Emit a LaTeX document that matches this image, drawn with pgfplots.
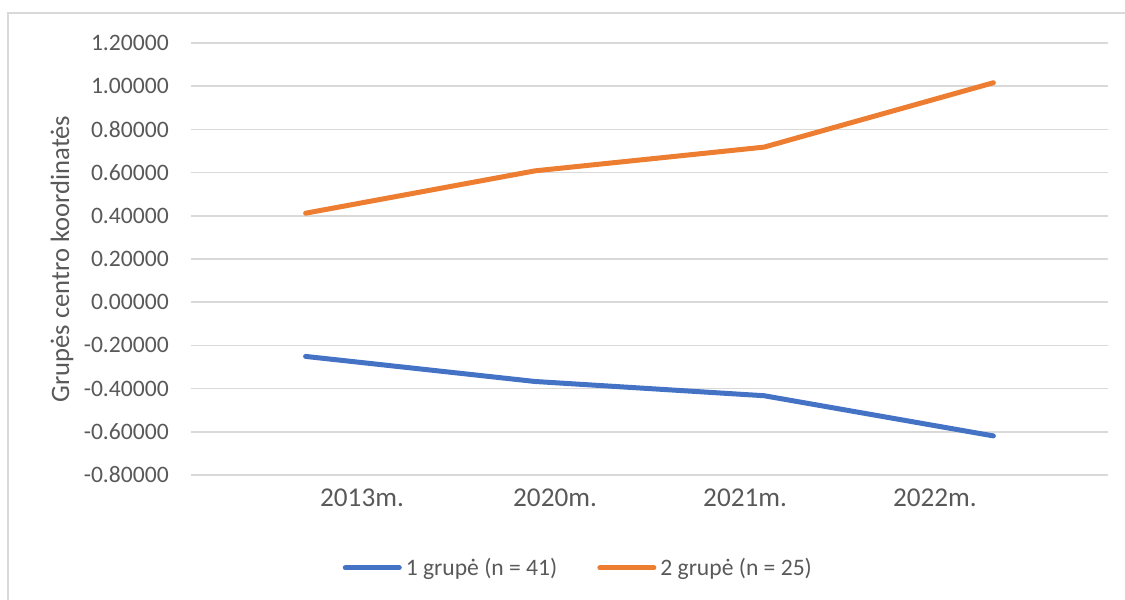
\documentclass[border=0pt]{standalone}
\usepackage{fontspec}
\setmainfont{Carlito}
\usepackage{pgfplots}
\pgfplotsset{compat=1.18}
\definecolor{grpblue}{HTML}{4472C4}
\definecolor{grporange}{HTML}{ED7D31}
\definecolor{gridgray}{HTML}{D9D9D9}
\definecolor{txtgray}{HTML}{595959}
\begin{document}
\begin{tikzpicture}
\useasboundingbox (0,0) rectangle (562.5pt,300pt);
\draw[gridgray, line width=0.8pt] (4pt,-10pt) rectangle (580pt,293.5pt);
\begin{axis}[
  at={(95.5pt,62.5pt)}, anchor=south west,
  scale only axis, width=458.5pt, height=216pt,
  xmin=0, xmax=4, ymin=-0.8, ymax=1.2,
  ytick distance=0.2,
  xtick={0.746,1.588,2.417,3.245},
  xticklabels={2013m.,2020m.,2021m.,2022m.},
  axis line style={draw=none}, tick style={draw=none},
  ymajorgrids, major grid style={gridgray, line width=0.75pt},
  /pgf/number format/.cd, fixed, fixed zerofill, precision=5, assume math mode=true,
  /pgfplots/.cd,
  yticklabel style={font=\fontsize{11.8pt}{14pt}\selectfont, text=txtgray, anchor=east, xshift=-7.6pt},
  xticklabel style={font=\fontsize{13.6pt}{16pt}\selectfont, text=txtgray, anchor=base, yshift=-15.8pt},
  every axis y label/.style={at={(axis description cs:-0.1407,0.5)}, rotate=90, anchor=center},
  ylabel={Grupės centro koordinatės},
  ylabel style={font=\fontsize{13.3pt}{16pt}\selectfont, text=txtgray},
  legend columns=2,
  legend style={at={(0.4235,-0.215)}, anchor=center, draw=none, fill=none,
    font=\fontsize{11.8pt}{14pt}\selectfont, text=txtgray,
    /tikz/every even column/.append style={column sep=18pt}},
  legend image code/.code={\draw[#1] (0pt,0pt) -- (27pt,0pt);},
  every axis plot/.append style={line width=2.5pt, line cap=round, line join=round},
]
\addplot[grpblue] coordinates {(0.5,-0.251) (1.5,-0.367) (2.5,-0.433) (3.5,-0.619)};
\addlegendentry{1 grupė (n = 41)}
\addplot[grporange] coordinates {(0.5,0.412) (1.5,0.608) (2.5,0.718) (3.5,1.016)};
\addlegendentry{2 grupė (n = 25)}
\end{axis}
\end{tikzpicture}
\end{document}
